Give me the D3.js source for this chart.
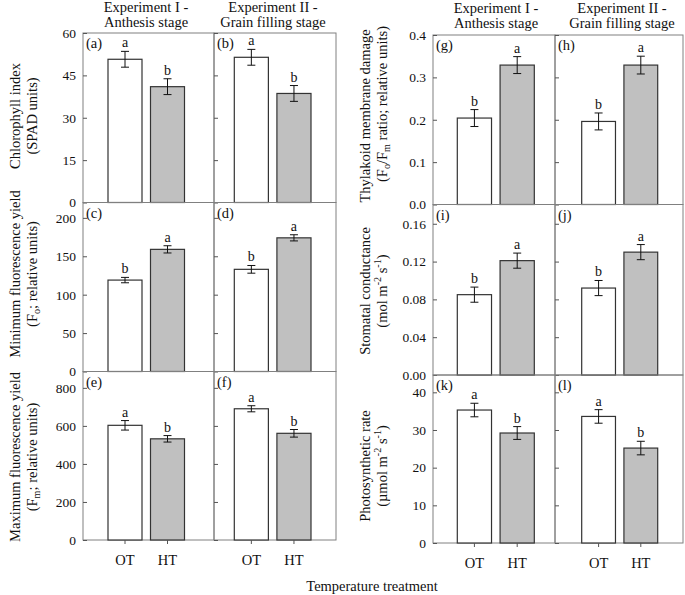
<!DOCTYPE html>
<html><head><meta charset="utf-8">
<script src="https://cdn.jsdelivr.net/npm/d3@7"></script>
<style>
body{margin:0;background:#fff;}
svg{display:block;}
svg text{font-family:"Liberation Serif","Times New Roman",serif;fill:#111;}
</style></head>
<body><svg id="c" width="685" height="595"></svg>
<script>
// ---------- data ----------
const treatments = ["OT", "HT"];
const expTitles = [["Experiment I -", "Anthesis stage"], ["Experiment II -", "Grain filling stage"]];
const xTitle = "Temperature treatment";

// values ordered: [Exp I OT, Exp I HT, Exp II OT, Exp II HT]
const chlMean = [50.7, 41.0, 51.4, 38.6];
const chlErr  = [2.8, 2.8, 2.8, 2.8];
const chlSig  = ["a", "b", "a", "b"];
const chlTicks = [0, 15, 30, 45, 60];

const foMean = [119, 159, 133, 174];
const foErr  = [3.5, 4.7, 5, 4];
const foSig  = ["b", "a", "b", "a"];
const foTicks = [0, 50, 100, 150, 200];

const fmMean = [603, 532, 690, 561];
const fmErr  = [25, 17, 16, 20];
const fmSig  = ["a", "b", "a", "b"];
const fmTicks = [0, 200, 400, 600, 800];

const thyMean = [0.204, 0.329, 0.196, 0.329];
const thyErr  = [0.02, 0.02, 0.02, 0.021];
const thySig  = ["b", "a", "b", "a"];
const thyTicks = [0, 0.1, 0.2, 0.3, 0.4];

const gsMean = [0.085, 0.121, 0.092, 0.130];
const gsErr  = [0.008, 0.008, 0.008, 0.008];
const gsSig  = ["b", "a", "b", "a"];
const gsTicks = [0, 0.04, 0.08, 0.12, 0.16];

const pnMean = [35.3, 29.2, 33.6, 25.2];
const pnErr  = [1.8, 1.7, 1.8, 1.8];
const pnSig  = ["a", "b", "a", "b"];
const pnTicks = [0, 10, 20, 30, 40];

const panelLetters = ["(a)","(b)","(c)","(d)","(e)","(f)","(g)","(h)","(i)","(j)","(k)","(l)"];

// ---------- layout ----------
const svg = d3.select("#c");
const frameCol = "#808080";
const barStroke = "#333";
const htFill = "#c0c0c0";

const groups = [
  { edges: [83, 214, 336], rows: [33, 202.5, 371.5, 540],
    bands: [[108, 184.5], [234.3, 311]],
    titleX: [146, 273], labX1: 15, labX2: 32,
    vars: [
      { mean: chlMean, err: chlErr, sig: chlSig, ticks: chlTicks, max: 60, fmt: d3.format("d"),
        l1: [["Chlorophyll index", ""]], l2: [["(SPAD units)", ""]], cy: 116, cy2: 116 },
      { mean: foMean, err: foErr, sig: foSig, ticks: foTicks, max: 220, fmt: d3.format("d"),
        l1: [["Minimum fluorescence yield", ""]], l2: [["(F", ""], ["o", "sub"], ["; relative units)", ""]], cy: 274, cy2: 274 },
      { mean: fmMean, err: fmErr, sig: fmSig, ticks: fmTicks, max: 886, fmt: d3.format("d"),
        l1: [["Maximum fluorescence yield", ""]], l2: [["(F", ""], ["m", "sub"], ["; relative units)", ""]], cy: 457, cy2: 457 }
    ] },
  { edges: [433, 555, 683], rows: [35, 204.5, 375, 543],
    bands: [[457.3, 534.3], [581.7, 657.7]],
    titleX: [496, 622], labX1: 365, labX2: 382,
    vars: [
      { mean: thyMean, err: thyErr, sig: thySig, ticks: thyTicks, max: 0.4, fmt: d3.format(".1f"),
        l1: [["Thylakoid membrane damage", ""]], l2: [["(F", ""], ["o", "sub"], ["/F", ""], ["m", "sub"], [" ratio; relative units)", ""]], cy: 116, cy2: 104 },
      { mean: gsMean, err: gsErr, sig: gsSig, ticks: gsTicks, max: 0.1804, fmt: d3.format(".2f"),
        l1: [["Stomatal conductance", ""]], l2: [["(mol m", ""], ["-2", "sup"], [" s", ""], ["-1", "sup"], [")", ""]], cy: 291, cy2: 291 },
      { mean: pnMean, err: pnErr, sig: pnSig, ticks: pnTicks, max: 44.6, fmt: d3.format("d"),
        l1: [["Photosynthetic rate", ""]], l2: [["(\u00b5mol m", ""], ["-2", "sup"], [" s", ""], ["-1", "sup"], [")", ""]], cy: 466, cy2: 466 }
    ] }
];

function rich(textSel, segs) {
  let off = 0;
  segs.forEach(([t, kind]) => {
    const target = kind === "sub" ? 4 : kind === "sup" ? -5 : 0;
    const ts = textSel.append("tspan").text(t).attr("dy", target - off);
    if (kind) ts.attr("font-size", "0.7em");
    off = target;
  });
}

groups.forEach((g, gi) => {
  // column titles
  expTitles.forEach((tt, ci) => {
    tt.forEach((line, li) => {
      svg.append("text").attr("x", g.titleX[ci]).attr("y", 12 + li * 15 + (gi ? 1 : 0))
        .attr("text-anchor", "middle").attr("font-size", 14.5).text(line);
    });
  });

  g.vars.forEach((v, ri) => {
    const top = g.rows[ri], bot = g.rows[ri + 1];
    const y = d3.scaleLinear().domain([0, v.max]).range([bot, top]);

    // y-axis title
    const t1 = svg.append("text").attr("transform", `translate(${g.labX1},${v.cy}) rotate(-90)`)
      .attr("text-anchor", "middle").attr("dominant-baseline", "central").attr("font-size", 14.5);
    rich(t1, v.l1);
    const t2 = svg.append("text").attr("transform", `translate(${g.labX2},${v.cy2}) rotate(-90)`)
      .attr("text-anchor", "middle").attr("dominant-baseline", "central").attr("font-size", 14.5);
    rich(t2, v.l2);

    [0, 1].forEach(ci => {
      const x0 = g.edges[ci], x1 = g.edges[ci + 1];
      const x = d3.scaleBand().domain(treatments).range(g.bands[ci]).paddingInner(0.2).paddingOuter(0);
      const p = svg.append("g");

      // frame
      p.append("rect").attr("x", x0).attr("y", top).attr("width", x1 - x0).attr("height", bot - top)
        .attr("fill", "none").attr("stroke", frameCol).attr("stroke-width", 1);

      // y ticks (inward)
      const ax = d3.axisLeft(y).tickValues(v.ticks).tickSize(-4).tickSizeOuter(0).tickPadding(7)
        .tickFormat(ci === 0 ? v.fmt : () => "");
      const ag = p.append("g").attr("transform", `translate(${x0},0)`).call(ax);
      ag.select(".domain").remove();
      ag.selectAll(".tick line").attr("stroke", "#555");
      ag.selectAll("text").attr("font-size", 13.5);

      // bars
      treatments.forEach((t, ti) => {
        const k = ci * 2 + ti;
        const m = v.mean[k], e = v.err[k];
        p.append("rect").attr("x", x(t)).attr("y", y(m)).attr("width", x.bandwidth())
          .attr("height", bot - y(m)).attr("fill", ti === 0 ? "#fff" : htFill)
          .attr("stroke", barStroke).attr("stroke-width", 1.2);
        const cx = x(t) + x.bandwidth() / 2;
        p.append("line").attr("x1", cx).attr("x2", cx).attr("y1", y(m - e)).attr("y2", y(m + e))
          .attr("stroke", "#111").attr("stroke-width", 1);
        [m - e, m + e].forEach(val => {
          p.append("line").attr("x1", cx - 4).attr("x2", cx + 4).attr("y1", y(val)).attr("y2", y(val))
            .attr("stroke", "#111").attr("stroke-width", 1);
        });
        p.append("text").attr("x", cx).attr("y", y(m + e) - 4).attr("text-anchor", "middle")
          .attr("font-size", 14).text(v.sig[k]);
      });

      // panel letter
      p.append("text").attr("x", x0 + 3).attr("y", top + 15).attr("font-size", 14.5)
        .text(panelLetters[gi * 6 + ri * 2 + ci]);

      // x axis on last row
      if (ri === 2) {
        const xa = d3.axisBottom(x).tickSize(4).tickSizeOuter(0).tickPadding(11);
        const xg = p.append("g").attr("transform", `translate(0,${bot})`).call(xa);
        xg.select(".domain").remove();
        xg.selectAll(".tick line").attr("stroke", "#555");
        xg.selectAll("text").attr("font-size", 14.5);
      }
    });
  });
});

svg.append("text").attr("x", 372).attr("y", 591).attr("text-anchor", "middle").attr("font-size", 14.5).text(xTitle);
</script></body></html>
